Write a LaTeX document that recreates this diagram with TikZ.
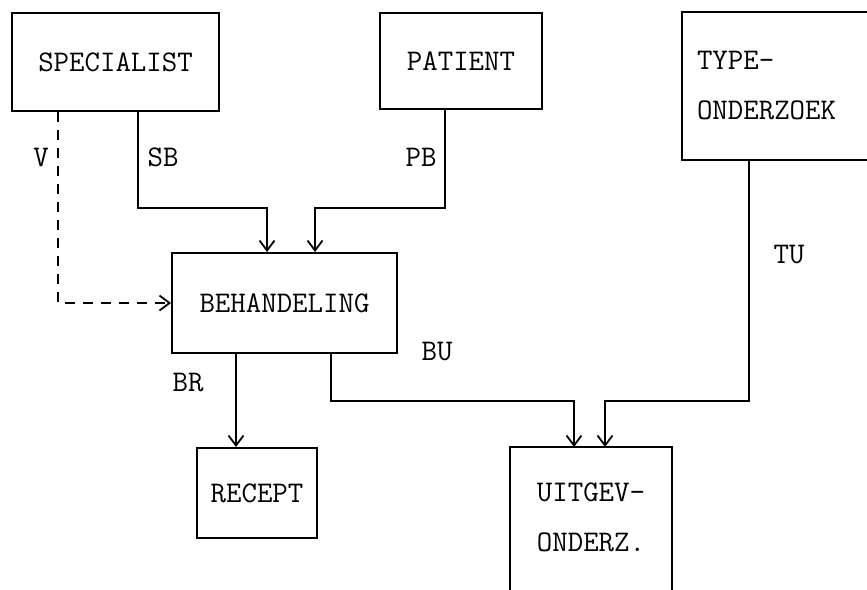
\documentclass[tikz,border=0pt]{standalone}
\usepackage{tikz}
\usetikzlibrary{arrows.meta}

\tikzset{
    entity/.style={draw, line width=2pt, rectangle, inner sep=0pt,
        font=\fontsize{30}{50}\selectfont\ttfamily},
    frame/.style={line width=2pt},
    flow/.style={line width=1.8pt, -{Straight Barb[length=10pt,width=15pt]}},
    refflow/.style={flow, dash pattern=on 10pt off 8pt},
    rel/.style={font=\fontsize{30}{36}\selectfont\ttfamily, inner sep=0pt}
}

\begin{document}
\begin{tikzpicture}[x=1pt, y=-1pt]
        \useasboundingbox (0,0) rectangle (867,589);

        % entiteiten
        \node[entity, minimum width=207pt, minimum height=98pt] (spec) at (115.5,62) {SPECIALIST};
        \node[entity, minimum width=162pt, minimum height=96pt] (pat) at (461,61) {PATIENT};
        \node[entity, draw=none, minimum width=189pt, minimum height=146pt,
              text width=161pt, inner xsep=14pt, align=left] (type) at (777.5,86) {TYPE-\\ONDERZOEK};
        \node[entity, minimum width=225pt, minimum height=100pt] (beh) at (284.5,303) {BEHANDELING};
        \node[entity, minimum width=120pt, minimum height=90pt] (rec) at (257,493) {RECEPT};
        \node[entity, draw=none, minimum width=160pt, minimum height=138pt, align=center] (uit) at (591,517) {UITGEV-\\ONDERZ.};

        % open kaders
        \draw[frame] ([xshift=6pt]type.north east) -| (type.south west) -- ([xshift=6pt]type.south east);
        \draw[frame] ([yshift=-6pt]uit.south west) |- (uit.north east) -- ([yshift=-6pt]uit.south east);

        % relaties
        \draw[refflow] ([xshift=47pt]spec.south west) |- (beh.west);
        \draw[flow] ([xshift=127pt]spec.south west) -- ++(0,96) -| ([xshift=96pt]beh.north west);
        \draw[flow] ([xshift=66pt]pat.south west) -- ++(0,98) -| ([xshift=144pt]beh.north west);
        \draw[flow] ([xshift=65pt]beh.south west) -- ([xshift=40pt]rec.north west);
        \draw[flow] ([xshift=160pt]beh.south west) -- ++(0,47) -| ([xshift=64pt]uit.north west);
        \draw[flow] ([xshift=67pt]type.south west) -- ++(0,241) -| ([xshift=95pt]uit.north west);

        \node[rel] (v) at (41,157) {V};
        \node[rel] (sb) at (163,157) {SB};
        \node[rel] (pb) at (421,157) {PB};
        \node[rel] (br) at (188,383) {BR};
        \node[rel] (bu) at (437,352) {BU};
        \node[rel] (tu) at (789,255) {TU};
\end{tikzpicture}
\end{document}
